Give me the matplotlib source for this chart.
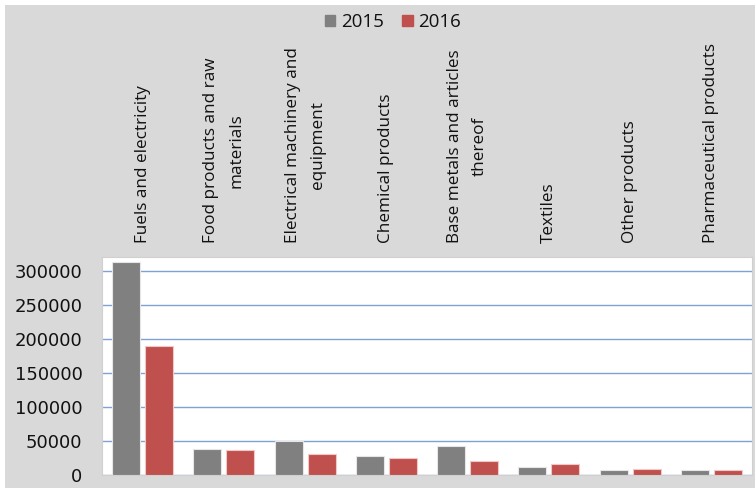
import matplotlib.pyplot as plt
import matplotlib.patches as mpatches
import numpy as np

categories = ['Fuels and electricity', 'Food products and raw\nmaterials',
              'Electrical machinery and\nequipment', 'Chemical products',
              'Base metals and articles\nthereof', 'Textiles', 'Other products',
              'Pharmaceutical products']
vals_2015 = [312000, 38000, 50000, 28500, 42500, 12200, 6800, 7800]
vals_2016 = [190000, 36000, 30700, 25300, 21000, 16500, 8800, 7500]
yticks = [0, 50000, 100000, 150000, 200000, 250000, 300000]

bg = '#d9d9d9'
c15 = '#808080'
c16 = '#c0504d'

fig = plt.figure(figsize=(7.55, 4.88), dpi=100)
fig.patch.set_facecolor(bg)
# thin white margin at the top and left edge
fig.patches.append(mpatches.Rectangle((0, 1 - 5/488), 1, 5/488, transform=fig.transFigure,
                                      facecolor='white', edgecolor='none', zorder=-10))
fig.patches.append(mpatches.Rectangle((0, 0), 5/755, 1, transform=fig.transFigure,
                                      facecolor='white', edgecolor='none', zorder=-10))

ax = fig.add_axes([102/755, 13/488, 650/755, 218/488])
ax.set_facecolor('white')

x = np.arange(len(categories))
w = 0.345
ax.bar(x - w/2 - 0.03, vals_2015, w, color=c15, edgecolor='#e6e6e6', linewidth=0.8, label='2015', zorder=3)
ax.bar(x + w/2 + 0.03, vals_2016, w, color=c16, edgecolor='#f0c8c8', linewidth=0.8, label='2016', zorder=3)

ax.set_xlim(-0.5, len(categories) - 0.5)
ax.set_ylim(0, 320000)
ax.set_yticks(yticks)
ax.set_yticklabels([str(v) for v in yticks], fontsize=13, family='DejaVu Sans', color='#111111')
ax.tick_params(axis='y', length=0, pad=14)
ax.set_xticks([])
ax.yaxis.grid(True, color='#7fa2d6', linewidth=1.0, zorder=0)
ax.set_axisbelow(True)
for s in ax.spines.values():
    s.set_color('#d0d0d0')
    s.set_linewidth(0.8)

# category labels, rotated, above the plot area
for xi, lab in zip(x, categories):
    ax.text(xi, 1.0 + 14/218, lab, transform=ax.get_xaxis_transform(), rotation=90,
            ha='center', va='bottom', multialignment='center', linespacing=1.75,
            fontsize=12.3, family='Open Sans', color='#111111')

handles = [mpatches.Patch(color=c15, label='2015'), mpatches.Patch(color=c16, label='2016')]
leg = fig.legend(handles=handles, loc='center', bbox_to_anchor=(393/755, 1 - 22/488), ncol=2,
                 frameon=False, prop={'family': 'Open Sans', 'size': 13.5},
                 handlelength=0.55, handleheight=0.55, handletextpad=0.3, columnspacing=1.0)
for t in leg.get_texts():
    t.set_color('#111111')

fig.savefig('out.png', dpi=100, facecolor=fig.get_facecolor())
